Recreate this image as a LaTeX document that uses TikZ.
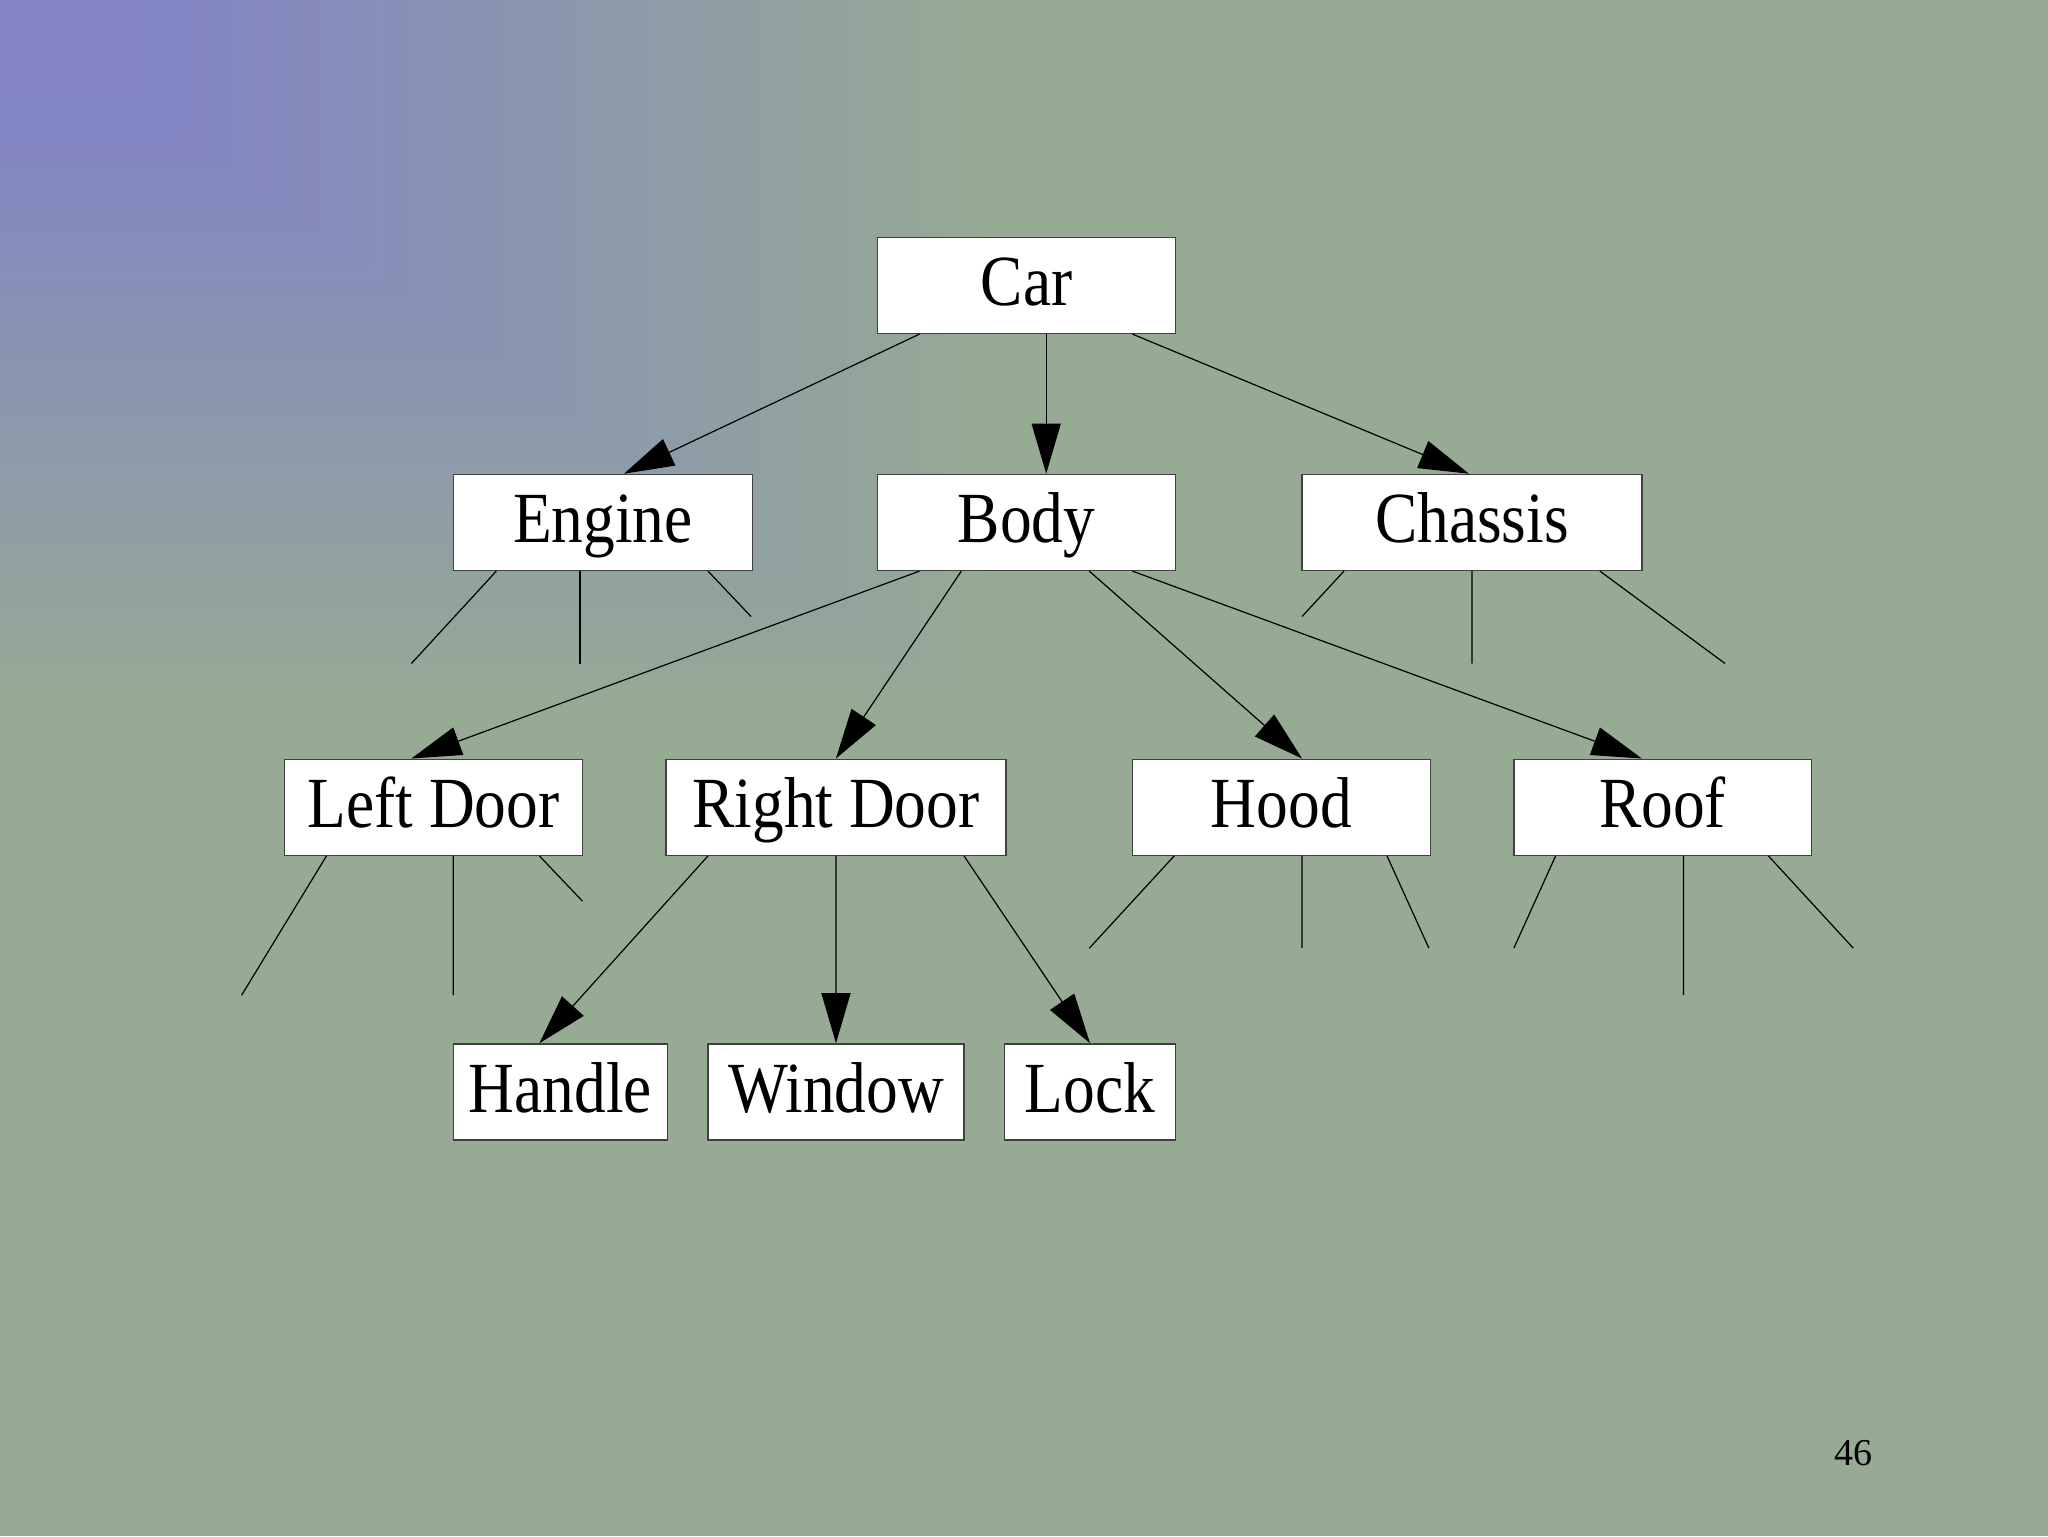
\documentclass[tikz,border=0pt]{standalone}
\usepackage{fontspec}
\setmainfont{Liberation Serif}
\newfontfamily\boxfont[FakeStretch=0.88]{Liberation Serif}
\usetikzlibrary{arrows.meta,calc}
\definecolor{bggreen}{RGB}{150,170,148}
\definecolor{bgpurple}{RGB}{130,132,198}
\tikzset{
  part/.style={draw=black!75, line width=0.7pt, fill=white, minimum height=48pt,
    inner sep=0pt, font=\boxfont\fontsize{36}{40}\selectfont,
    text height=23.8pt, text depth=3.6pt},
  link/.style={line width=0.6pt, -{Triangle[length=25pt,width=14.5pt]}},
  stub/.style={line width=0.6pt}
}
\begin{document}
\begin{tikzpicture}[x=0.5pt,y=-0.5pt]
% background
\fill[bggreen] (0,0) rectangle (2048,1536);
\foreach \i in {0,...,50}{
  \pgfmathsetmacro{\f}{1-0.85*\i/50}
  \pgfmathsetmacro{\w}{1000*\f}
  \pgfmathsetmacro{\h}{720*\f}
  \pgfmathsetmacro{\p}{\i/50*100}
  \fill[bgpurple!\p!bggreen] (0,0) rectangle (\w,\h);
}
\useasboundingbox (0,0) rectangle (2048,1536);

% nodes
\node[part, minimum width=148.9pt] (car) at (1026.6,285.4) {Car};
\node[part, minimum width=149.5pt] (engine) at (602.8,522.4) {Engine};
\node[part, minimum width=148.9pt] (body) at (1026.6,522.4) {Body};
\node[part, minimum width=169.9pt] (chassis) at (1471.9,522.4) {Chassis};
\node[part, minimum width=148.9pt] (leftdoor) at (433.6,807.2) {Left Door};
\node[part, minimum width=169.9pt] (rightdoor) at (835.9,807.2) {Right Door};
\node[part, minimum width=148.9pt] (hood) at (1281.3,807.2) {Hood};
\node[part, minimum width=148.9pt] (roof) at (1662.7,807.2) {Roof};
\node[part, minimum width=107.1pt] (handle) at (560.3,1091.9) {Handle};
\node[part, minimum width=128pt] (window) at (836,1091.9) {Window};
\node[part, minimum width=85.5pt] (lock) at (1090,1091.9) {Lock};

% arrows
\draw[link] ($(car.south)+(-107.1,0)$) -- ($(engine.north)+(21.2,0)$);
\draw[link] ($(car.south)+(19.6,0)$) -- ($(body.north)+(19.6,0)$);
\draw[link] ($(car.south)+(105.8,0)$) -- ($(chassis.north)+(-3,0)$);
\draw[link] ($(body.south)+(-107.1,0)$) -- ($(leftdoor.north)+(-22.2,0)$);
\draw[link] ($(body.south)+(-65.3,0)$) -- (rightdoor.north);
\draw[link] ($(body.south)+(62.7,0)$) -- ($(hood.north)+(20.7,0)$);
\draw[link] ($(body.south)+(105.8,0)$) -- ($(roof.north)+(-20.9,0)$);
\draw[link] ($(rightdoor.south)+(-127.9,0)$) -- ($(handle.north)+(-20.9,0)$);
\draw[link] (rightdoor.south) -- (window.north);
\draw[link] ($(rightdoor.south)+(128.1,0)$) -- (lock.north);

% stub ends
\coordinate (e1) at (411.4,663.5);
\coordinate (e2) at (580,663.5);
\coordinate (e3) at (751,616.5);
\coordinate (c1) at (1302,616.5);
\coordinate (c2) at (1472,663.5);
\coordinate (c3) at (1725,663.5);
\coordinate (l1) at (241.6,995.2);
\coordinate (l2) at (453.2,995.2);
\coordinate (l3) at (582.5,901.2);
\coordinate (h1) at (1089.3,948.2);
\coordinate (h2) at (1302,948.2);
\coordinate (h3) at (1428.9,948.2);
\coordinate (r1) at (1513.8,948.2);
\coordinate (r2) at (1683.5,995.2);
\coordinate (r3) at (1853.3,948.2);

% stubs
\draw[stub] ($(engine.south)+(-106.5,0)$) -- (e1);
\draw[stub] ($(engine.south)+(-22.8,0)$) -- (e2);
\draw[stub] ($(engine.south)+(105.2,0)$) -- (e3);
\draw[stub] ($(chassis.south)+(-127.9,0)$) -- (c1);
\draw[stub] (chassis.south) -- (c2);
\draw[stub] ($(chassis.south)+(128,0)$) -- (c3);
\draw[stub] ($(leftdoor.south)+(-107.1,0)$) -- (l1);
\draw[stub] ($(leftdoor.south)+(19.6,0)$) -- (l2);
\draw[stub] ($(leftdoor.south)+(105.8,0)$) -- (l3);
\draw[stub] ($(hood.south)+(-107.1,0)$) -- (h1);
\draw[stub] ($(hood.south)+(20.7,0)$) -- (h2);
\draw[stub] ($(hood.south)+(105.7,0)$) -- (h3);
\draw[stub] ($(roof.south)+(-107.1,0)$) -- (r1);
\draw[stub] ($(roof.south)+(20.8,0)$) -- (r2);
\draw[stub] ($(roof.south)+(105.7,0)$) -- (r3);

% page number
\node[font=\fontsize{19}{22}\selectfont, anchor=base, inner sep=0pt] (pg) at (1853,1465) {46};
\end{tikzpicture}
\end{document}
